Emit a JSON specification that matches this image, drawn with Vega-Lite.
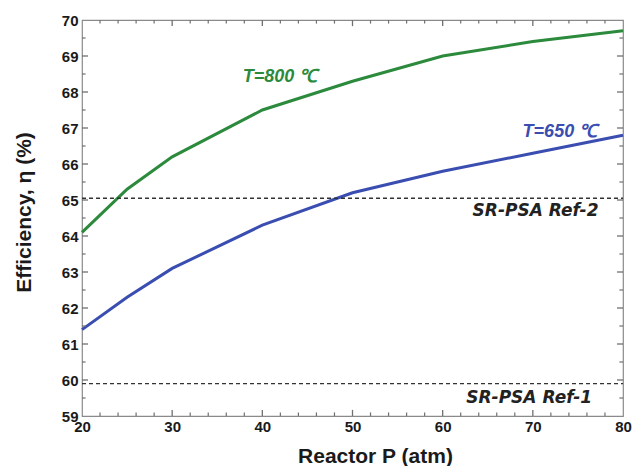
{
  "$schema": "https://vega.github.io/schema/vega-lite/v6.json",
  "autosize": "none",
  "width": 541,
  "height": 396,
  "padding": {"left": 82, "top": 20, "right": 9, "bottom": 50},
  "background": "white",
  "config": {
    "view": {"stroke": "#8a8a8a", "strokeWidth": 1.2},
    "axis": {"grid": false, "domain": false, "ticks": false, "labelFlush": false, "labelFont": "Liberation Sans", "labelFontWeight": "bold", "labelFontSize": 15, "labelColor": "#1a1a1a", "titleFont": "Liberation Sans", "titleFontWeight": "bold", "titleFontSize": 21, "titleColor": "#1a1a1a"}
  },
  "datasets": {
    "xmaj": [{"t": 30}, {"t": 40}, {"t": 50}, {"t": 60}, {"t": 70}],
    "xmin": [{"t": 22}, {"t": 24}, {"t": 26}, {"t": 28}, {"t": 32}, {"t": 34}, {"t": 36}, {"t": 38}, {"t": 42}, {"t": 44}, {"t": 46}, {"t": 48}, {"t": 52}, {"t": 54}, {"t": 56}, {"t": 58}, {"t": 62}, {"t": 64}, {"t": 66}, {"t": 68}, {"t": 72}, {"t": 74}, {"t": 76}, {"t": 78}],
    "ymaj": [{"t": 60}, {"t": 61}, {"t": 62}, {"t": 63}, {"t": 64}, {"t": 65}, {"t": 66}, {"t": 67}, {"t": 68}, {"t": 69}],
    "ymin": [{"t": 59.5}, {"t": 60.5}, {"t": 61.5}, {"t": 62.5}, {"t": 63.5}, {"t": 64.5}, {"t": 65.5}, {"t": 66.5}, {"t": 67.5}, {"t": 68.5}, {"t": 69.5}]
  },
  "resolve": {"axis": {"x": "independent", "y": "independent"}},
  "layer": [
    {
      "data": {"values": [
        {"P": 20, "eff": 64.1, "series": "800"},
        {"P": 25, "eff": 65.3, "series": "800"},
        {"P": 30, "eff": 66.2, "series": "800"},
        {"P": 40, "eff": 67.5, "series": "800"},
        {"P": 50, "eff": 68.3, "series": "800"},
        {"P": 60, "eff": 69.0, "series": "800"},
        {"P": 70, "eff": 69.4, "series": "800"},
        {"P": 80, "eff": 69.7, "series": "800"},
        {"P": 20, "eff": 61.4, "series": "650"},
        {"P": 25, "eff": 62.3, "series": "650"},
        {"P": 30, "eff": 63.1, "series": "650"},
        {"P": 40, "eff": 64.3, "series": "650"},
        {"P": 50, "eff": 65.2, "series": "650"},
        {"P": 60, "eff": 65.8, "series": "650"},
        {"P": 70, "eff": 66.3, "series": "650"},
        {"P": 80, "eff": 66.8, "series": "650"}
      ]},
      "mark": {"type": "line", "strokeWidth": 3},
      "encoding": {
        "x": {"field": "P", "type": "quantitative", "scale": {"domain": [20, 80], "nice": false, "zero": false},
              "axis": {"orient": "bottom", "title": "Reactor P (atm)", "values": [20, 30, 40, 50, 60, 70, 80], "labelPadding": 3, "titleX": 293, "titleY": 46, "titleBaseline": "alphabetic", "titleAnchor": "middle"}},
        "y": {"field": "eff", "type": "quantitative", "scale": {"domain": [59, 70], "nice": false, "zero": false},
              "axis": {"orient": "left", "title": "Efficiency, η (%)", "values": [59, 60, 61, 62, 63, 64, 65, 66, 67, 68, 69, 70], "format": "d", "labelPadding": 4, "titleX": -58, "titleY": 192, "titleBaseline": "middle", "titleAngle": -90, "titleAnchor": "middle"}},
        "color": {"field": "series", "type": "nominal", "scale": {"domain": ["800", "650"], "range": ["#2b8a3c", "#3a4db0"]}, "legend": null}
      }
    },
    {
      "data": {"name": "xmaj"},
      "mark": {"type": "rule", "color": "#707070", "strokeWidth": 1.3},
      "encoding": {"x": {"field": "t", "type": "quantitative", "axis": null}, "y": {"datum": 59, "type": "quantitative", "axis": null}, "y2": {"datum": 59.17}}
    },
    {
      "data": {"name": "xmaj"},
      "mark": {"type": "rule", "color": "#707070", "strokeWidth": 1.3},
      "encoding": {"x": {"field": "t", "type": "quantitative", "axis": null}, "y": {"datum": 70, "type": "quantitative", "axis": null}, "y2": {"datum": 69.83}}
    },
    {
      "data": {"name": "xmin"},
      "mark": {"type": "rule", "color": "#707070", "strokeWidth": 1.2},
      "encoding": {"x": {"field": "t", "type": "quantitative", "axis": null}, "y": {"datum": 59, "type": "quantitative", "axis": null}, "y2": {"datum": 59.1}}
    },
    {
      "data": {"name": "xmin"},
      "mark": {"type": "rule", "color": "#707070", "strokeWidth": 1.2},
      "encoding": {"x": {"field": "t", "type": "quantitative", "axis": null}, "y": {"datum": 70, "type": "quantitative", "axis": null}, "y2": {"datum": 69.9}}
    },
    {
      "data": {"name": "ymaj"},
      "mark": {"type": "rule", "color": "#707070", "strokeWidth": 1.3},
      "encoding": {"y": {"field": "t", "type": "quantitative", "axis": null}, "x": {"datum": 20, "type": "quantitative", "axis": null}, "x2": {"datum": 20.67}}
    },
    {
      "data": {"name": "ymaj"},
      "mark": {"type": "rule", "color": "#707070", "strokeWidth": 1.3},
      "encoding": {"y": {"field": "t", "type": "quantitative", "axis": null}, "x": {"datum": 80, "type": "quantitative", "axis": null}, "x2": {"datum": 79.33}}
    },
    {
      "data": {"name": "ymin"},
      "mark": {"type": "rule", "color": "#707070", "strokeWidth": 1.2},
      "encoding": {"y": {"field": "t", "type": "quantitative", "axis": null}, "x": {"datum": 20, "type": "quantitative", "axis": null}, "x2": {"datum": 20.4}}
    },
    {
      "data": {"name": "ymin"},
      "mark": {"type": "rule", "color": "#707070", "strokeWidth": 1.2},
      "encoding": {"y": {"field": "t", "type": "quantitative", "axis": null}, "x": {"datum": 80, "type": "quantitative", "axis": null}, "x2": {"datum": 79.6}}
    },
    {
      "data": {"values": [
        {"lx": 41.96, "ly": 68.43, "label": "T=800  ℃", "series": "800"},
        {"lx": 73.0, "ly": 66.9, "label": "T=650  ℃", "series": "650"}
      ]},
      "mark": {"type": "text", "font": "Liberation Sans", "fontSize": 18, "fontWeight": "bold", "fontStyle": "italic", "align": "center", "baseline": "middle"},
      "encoding": {
        "x": {"field": "lx", "type": "quantitative", "axis": null},
        "y": {"field": "ly", "type": "quantitative", "axis": null},
        "text": {"field": "label"},
        "color": {"field": "series", "type": "nominal", "legend": null}
      }
    },
    {
      "data": {"values": [
        {"lx": 70.3, "ly": 64.69, "label": "SR-PSA Ref-2"},
        {"lx": 69.6, "ly": 59.5, "label": "SR-PSA Ref-1"}
      ]},
      "mark": {"type": "text", "font": "DejaVu Sans", "fontSize": 17, "fontWeight": "bold", "fontStyle": "italic", "align": "center", "baseline": "middle", "color": "#222222"},
      "encoding": {
        "x": {"field": "lx", "type": "quantitative", "axis": null},
        "y": {"field": "ly", "type": "quantitative", "axis": null},
        "text": {"field": "label"}
      }
    },
    {
      "data": {"values": [
        {"ref": 65.05},
        {"ref": 59.9}
      ]},
      "mark": {"type": "rule", "color": "#333333", "strokeWidth": 1.4, "strokeDash": [4, 3]},
      "encoding": {
        "x": {"datum": 20, "type": "quantitative", "axis": null},
        "x2": {"datum": 80},
        "y": {"field": "ref", "type": "quantitative", "axis": null}
      }
    }
  ]
}
